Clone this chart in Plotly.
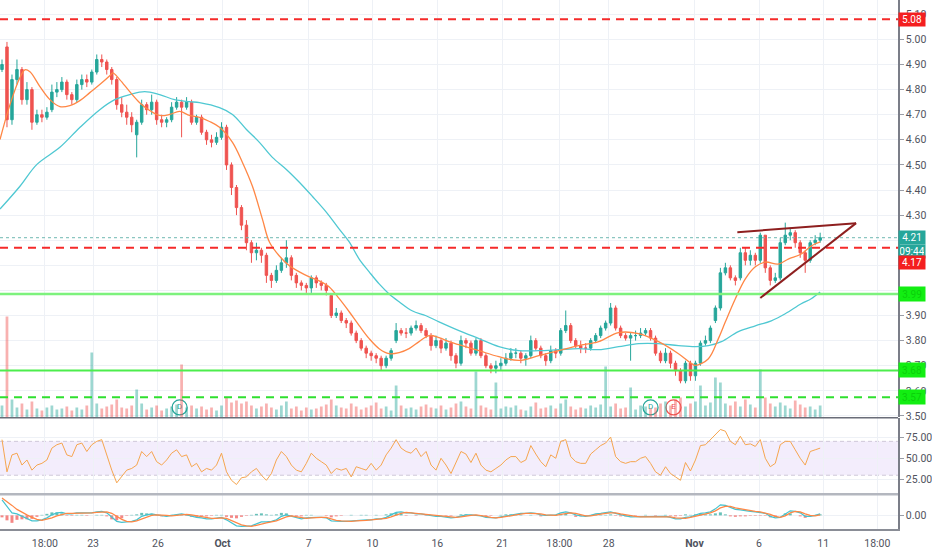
import plotly.graph_objects as go

# ---------------- DATA ----------------
opens = [4.88,4.97,4.68,4.84,4.88,4.76,4.80,4.67,4.70,4.69,
         4.72,4.79,4.80,4.83,4.78,4.76,4.82,4.84,4.83,4.87,
         4.92,4.91,4.88,4.84,4.74,4.71,4.69,4.62,4.67,4.74,
         4.72,4.75,4.68,4.67,4.68,4.73,4.75,4.73,4.75,4.67,
         4.69,4.63,4.60,4.59,4.61,4.65,4.50,4.41,4.33,4.26,
         4.19,4.15,4.16,4.14,4.06,4.04,4.08,4.11,4.13,4.06,
         4.03,4.02,4.01,4.05,4.03,4.02,3.98,3.90,3.91,3.88,
         3.87,3.83,3.80,3.77,3.75,3.74,3.73,3.70,3.73,3.80,
         3.84,3.83,3.83,3.85,3.86,3.84,3.82,3.78,3.80,3.77,
         3.79,3.74,3.71,3.80,3.79,3.75,3.80,3.74,3.70,3.69,
         3.70,3.71,3.73,3.75,3.75,3.73,3.74,3.80,3.77,3.74,
         3.72,3.76,3.75,3.84,3.86,3.80,3.78,3.77,3.77,3.80,
         3.82,3.85,3.87,3.93,3.85,3.82,3.81,3.82,3.82,3.83,
         3.84,3.81,3.75,3.72,3.75,3.71,3.68,3.64,3.71,3.66,
         3.71,3.79,3.80,3.88,3.93,4.07,4.09,4.05,4.05,4.15,
         4.12,4.14,4.12,4.22,4.09,4.04,4.05,4.19,4.22,4.23,
         4.19,4.15,4.12,4.19,4.20]
highs = [4.92,4.99,4.86,4.92,4.89,4.83,4.81,4.72,4.72,4.73,
         4.82,4.83,4.85,4.84,4.79,4.84,4.86,4.86,4.88,4.94,
         4.94,4.92,4.89,4.85,4.77,4.74,4.71,4.68,4.76,4.75,
         4.78,4.76,4.70,4.69,4.75,4.77,4.76,4.77,4.76,4.70,
         4.70,4.64,4.62,4.63,4.67,4.66,4.51,4.42,4.34,4.28,
         4.20,4.19,4.17,4.15,4.07,4.10,4.13,4.20,4.14,4.07,
         4.04,4.03,4.06,4.06,4.04,4.03,3.98,3.93,3.92,3.89,
         3.88,3.84,3.81,3.78,3.76,3.75,3.74,3.74,3.77,3.87,
         3.85,3.85,3.86,3.88,3.87,3.85,3.83,3.82,3.81,3.81,
         3.80,3.75,3.82,3.81,3.80,3.81,3.81,3.75,3.71,3.72,
         3.73,3.75,3.77,3.77,3.76,3.75,3.82,3.81,3.78,3.75,
         3.78,3.77,3.85,3.92,3.87,3.81,3.80,3.79,3.81,3.83,
         3.86,3.88,3.95,3.94,3.86,3.83,3.83,3.84,3.85,3.85,
         3.85,3.82,3.76,3.77,3.76,3.72,3.69,3.72,3.72,3.72,
         3.80,3.82,3.86,3.94,4.09,4.11,4.10,4.06,4.17,4.17,
         4.16,4.15,4.23,4.22,4.10,4.07,4.21,4.27,4.25,4.24,
         4.20,4.16,4.20,4.22,4.23]
lows = [4.87,4.65,4.66,4.82,4.74,4.74,4.64,4.66,4.67,4.68,
        4.71,4.77,4.79,4.76,4.74,4.75,4.80,4.81,4.82,4.86,
        4.89,4.86,4.82,4.72,4.69,4.66,4.63,4.53,4.66,4.70,
        4.70,4.66,4.65,4.65,4.67,4.72,4.61,4.72,4.66,4.66,
        4.62,4.58,4.57,4.58,4.60,4.48,4.38,4.30,4.24,4.16,
        4.11,4.12,4.11,4.03,4.01,4.03,4.07,4.09,4.04,4.01,
        4.00,3.99,3.99,4.01,4.00,3.98,3.89,3.89,3.87,3.85,
        3.82,3.79,3.76,3.73,3.72,3.71,3.68,3.69,3.72,3.79,
        3.82,3.81,3.82,3.84,3.83,3.81,3.76,3.77,3.75,3.76,
        3.72,3.69,3.70,3.77,3.74,3.74,3.73,3.69,3.67,3.67,
        3.68,3.70,3.72,3.73,3.71,3.70,3.73,3.76,3.73,3.70,
        3.71,3.73,3.74,3.83,3.79,3.77,3.75,3.75,3.76,3.79,
        3.81,3.84,3.86,3.84,3.81,3.80,3.72,3.80,3.81,3.82,
        3.80,3.74,3.71,3.71,3.69,3.66,3.63,3.63,3.64,3.64,
        3.70,3.78,3.79,3.87,3.92,4.06,4.04,4.02,4.04,4.10,
        4.10,4.10,4.11,4.07,4.02,4.03,4.04,4.18,4.20,4.17,
        4.13,4.07,4.11,4.18,4.19]
closes = [4.90,4.68,4.84,4.88,4.76,4.80,4.67,4.70,4.69,4.71,
          4.79,4.80,4.83,4.78,4.76,4.82,4.84,4.83,4.87,4.92,
          4.91,4.88,4.84,4.74,4.71,4.69,4.66,4.67,4.74,4.72,
          4.75,4.68,4.67,4.68,4.73,4.75,4.73,4.75,4.67,4.69,
          4.63,4.60,4.59,4.61,4.65,4.50,4.41,4.33,4.26,4.19,
          4.15,4.16,4.14,4.06,4.04,4.08,4.11,4.13,4.06,4.03,
          4.02,4.01,4.05,4.03,4.02,4.00,3.90,3.91,3.88,3.87,
          3.83,3.80,3.77,3.75,3.74,3.73,3.70,3.73,3.76,3.84,
          3.83,3.83,3.85,3.86,3.84,3.82,3.78,3.80,3.77,3.79,
          3.74,3.71,3.80,3.79,3.75,3.80,3.74,3.70,3.69,3.70,
          3.71,3.73,3.75,3.75,3.73,3.74,3.80,3.77,3.74,3.72,
          3.76,3.75,3.84,3.86,3.80,3.78,3.77,3.77,3.80,3.82,
          3.85,3.87,3.93,3.85,3.82,3.81,3.82,3.82,3.83,3.84,
          3.81,3.75,3.72,3.75,3.71,3.68,3.64,3.71,3.66,3.71,
          3.79,3.80,3.85,3.93,4.07,4.09,4.05,4.04,4.15,4.12,
          4.14,4.12,4.22,4.09,4.04,4.05,4.19,4.22,4.23,4.19,
          4.15,4.12,4.19,4.20,4.21]
volume = [12,101,18,10,14,8,16,9,7,10,
          12,8,9,11,7,10,8,12,65,14,
          9,11,13,18,10,9,12,28,14,8,
          10,12,7,9,11,13,53,10,12,9,
          11,8,10,7,12,20,15,17,14,16,
          12,9,11,14,10,8,12,16,9,11,
          7,10,8,9,11,13,18,12,10,9,
          14,11,8,10,12,15,9,11,7,32,
          12,9,10,8,11,13,10,9,12,8,
          10,14,16,11,9,46,12,10,8,35,
          9,11,10,12,8,7,11,15,9,10,
          12,9,14,18,11,8,10,9,12,10,
          13,51,11,14,9,10,30,8,12,11,
          9,10,14,16,12,18,20,11,14,16,
          32,12,15,40,35,14,12,16,11,18,
          13,10,48,20,14,11,15,12,9,17,
          13,10,11,8,12]

# fast (orange) and slow (teal) moving averages, sampled along the bar index
ma_fast_x = [-0.4,1.6,3.6,4.6,5.6,7.6,9.6,11.6,13.6,15.6,17.6,19.6,21.6,22.2,23.6,25.6,27.6,29.6,31.6,33.6,
             35.6,37.6,39.6,41.6,43.6,46.2,48.2,50.2,52.2,53.6,55.6,57.6,59.6,61.6,63.6,65.6,67.6,69.6,71.6,73.6,
             75.6,77.6,79.6,81.6,83.6,85.6,87.6,89.6,91.6,95.6,99.6,103.6,107.6,111.6,115.6,119.6,123.6,127.6,131.6,135.6,
             138.2,139,141.6,143.6,145,147,149,151,153,155.6,157.6,160.2,162.2,164]
ma_fast_y = [4.601,4.740,4.848,4.879,4.871,4.812,4.760,4.732,4.736,4.756,4.788,4.820,4.855,4.867,4.840,4.792,4.748,4.717,4.697,4.701,
             4.713,4.697,4.689,4.673,4.650,4.590,4.510,4.415,4.284,4.193,4.137,4.098,4.074,4.054,4.038,4.014,3.967,3.915,3.860,3.808,
             3.768,3.748,3.752,3.768,3.796,3.820,3.812,3.796,3.784,3.760,3.736,3.721,3.740,3.760,3.780,3.796,3.832,3.828,3.796,3.748,
             3.709,3.701,3.728,3.808,3.875,3.967,4.046,4.094,4.113,4.105,4.125,4.145,4.177,4.193]
ma_slow_x = [-0.4,3.6,7,11.6,15.6,19.6,22.6,25.6,28.6,31.6,34.6,37.6,39.6,43.6,46.2,49,51.6,54.2,57,59.6,
             62.2,65,67.6,69.6,71.6,73.6,75.6,77.6,79.6,82.2,85,87.6,91.6,95.6,99.6,103.6,107.6,111.6,115.6,119.6,
             123.6,127.6,131.6,135.6,139,141.6,144.2,147.6,151,154.2,157,160.2,162.2,164]
ma_slow_y = [4.324,4.415,4.502,4.570,4.649,4.720,4.760,4.780,4.792,4.780,4.760,4.752,4.748,4.728,4.701,4.641,4.590,4.530,4.482,4.431,
             4.375,4.312,4.244,4.193,4.125,4.074,4.026,3.986,3.955,3.919,3.899,3.875,3.840,3.808,3.776,3.760,3.760,3.764,3.768,3.764,
             3.776,3.788,3.788,3.780,3.776,3.780,3.796,3.836,3.859,3.879,3.907,3.947,3.967,3.994]

rsi = [72,34,54,56,42,48,36,42,44,48,
       62,66,68,54,52,66,68,58,66,70,
       72,54,36,21,28,36,38,42,58,52,
       58,46,42,48,56,60,52,54,40,44,
       34,38,36,42,56,34,24,19,27,28,
       34,38,30,24,32,48,58,52,42,36,
       34,44,56,50,46,42,32,38,36,38,
       28,40,38,36,44,36,42,54,62,72,
       62,58,56,62,52,58,42,36,50,42,
       32,46,58,55,45,56,42,36,34,38,
       42,48,52,52,45,48,65,55,46,40,
       54,50,70,72,52,46,44,44,55,60,
       65,68,75,52,46,44,46,46,50,52,
       44,34,30,40,32,28,24,45,35,48,
       65,66,72,78,84,82,70,66,76,66,
       67,64,72,50,40,44,66,70,70,60,
       50,42,58,60,62]

macd = [0.031,0.018,0.005,0.003,-0.002,-0.007,-0.011,-0.011,-0.009,-0.005,
        0.001,0.005,0.006,0.003,0.003,0.005,0.005,0.004,0.005,0.007,
        0.008,0.005,-0.004,-0.012,-0.014,-0.013,-0.012,-0.009,-0.002,0.001,
        0.003,0.001,-0.001,-0.002,0.000,0.001,0.003,0.001,-0.002,-0.004,
        -0.005,-0.007,-0.007,-0.005,-0.004,-0.009,-0.015,-0.021,-0.022,-0.022,
        -0.021,-0.017,-0.013,-0.013,-0.012,-0.009,-0.002,0.001,-0.002,-0.005,
        -0.007,-0.005,-0.004,-0.004,-0.004,-0.005,-0.011,-0.012,-0.012,-0.012,
        -0.011,-0.011,-0.010,-0.009,-0.009,-0.007,-0.007,-0.004,0.001,0.006,
        0.007,0.005,0.005,0.003,0.003,0.001,0.000,-0.002,-0.002,-0.003,
        -0.005,-0.004,-0.001,0.001,0.001,0.000,-0.001,-0.004,-0.005,-0.005,
        -0.003,-0.001,0.001,0.003,0.004,0.004,0.005,0.004,0.001,0.000,
        0.000,0.001,0.005,0.007,0.005,0.001,-0.001,-0.002,0.000,0.003,
        0.004,0.005,0.007,0.004,0.001,-0.001,-0.003,-0.003,-0.003,-0.002,
        -0.002,-0.003,-0.003,-0.002,-0.004,-0.007,-0.007,-0.004,-0.003,0.000,
        0.004,0.005,0.007,0.013,0.021,0.020,0.016,0.012,0.011,0.009,
        0.008,0.007,0.006,0.004,-0.002,-0.005,-0.004,0.003,0.009,0.008,
        0.005,-0.002,-0.002,0.000,0.003]
signal = [0.035,0.028,0.020,0.012,0.006,0.001,-0.004,-0.008,-0.010,-0.008,
          -0.005,-0.001,0.002,0.004,0.004,0.004,0.004,0.005,0.005,0.006,
          0.007,0.007,0.004,-0.002,-0.008,-0.012,-0.013,-0.011,-0.007,-0.003,
          0.000,0.001,0.001,0.000,-0.001,0.000,0.001,0.002,0.001,-0.001,
          -0.003,-0.005,-0.006,-0.006,-0.005,-0.006,-0.010,-0.015,-0.019,-0.021,
          -0.022,-0.020,-0.017,-0.015,-0.013,-0.011,-0.007,-0.003,-0.001,-0.003,
          -0.005,-0.006,-0.005,-0.004,-0.004,-0.004,-0.007,-0.010,-0.011,-0.012,
          -0.012,-0.011,-0.011,-0.010,-0.009,-0.008,-0.007,-0.006,-0.003,0.001,
          0.004,0.006,0.005,0.004,0.003,0.002,0.001,-0.001,-0.002,-0.002,
          -0.004,-0.004,-0.003,-0.001,0.000,0.001,0.000,-0.002,-0.004,-0.005,
          -0.004,-0.003,-0.001,0.001,0.003,0.004,0.004,0.004,0.003,0.001,
          0.000,0.000,0.002,0.004,0.005,0.004,0.001,-0.001,-0.001,0.001,
          0.003,0.004,0.005,0.005,0.003,0.001,-0.001,-0.002,-0.003,-0.003,
          -0.002,-0.002,-0.003,-0.003,-0.003,-0.005,-0.006,-0.006,-0.004,-0.002,
          0.001,0.003,0.005,0.009,0.015,0.018,0.018,0.015,0.013,0.011,
          0.009,0.008,0.007,0.005,0.002,-0.002,-0.004,-0.001,0.005,0.008,
          0.007,0.003,0.000,-0.001,0.001]

tick_pos = [8.6,18.26,31.26,44.2,61.46,74.26,87.26,100.26,111.74,121.6,138.8,151.74,164.6,175.46]
tick_text = ["18:00","23","26","<b>Oct</b>","7","10","16","21","18:00","28","<b>Nov</b>","6","11","18:00"]
price_ticks = [3.5,3.6,3.7,3.8,3.9,4.0,4.1,4.2,4.3,4.4,4.5,4.6,4.7,4.8,4.9,5.0,5.1]
hidden_price_ticks = [4.0, 4.1, 4.2]   # covered by the price-label boxes in the reference

red_levels = [5.08, 4.17]
green_solid_levels = [3.986, 3.681]
green_dashed_levels = [3.574]
green_labels = ["3.99", "3.68", "3.57"]
last_price = 4.21
countdown = "09:44"
trendlines = [((147.4, 4.232), (171.2, 4.268)), ((152.0, 3.970), (171.2, 4.268))]
events_x = [35.6, 130.0, 134.6]
events_txt = ["D", "D", "E"]

assert len(opens) == len(highs) == len(lows) == len(closes) == len(volume) == len(rsi) == len(macd) == len(signal) == 165

# ---------------- STYLE ----------------
UP = "#26a69a"
DN = "#ef5350"
GRID = "#eef1f6"
FONT = "Roboto, Arial, sans-serif"
idx = list(range(len(closes)))
XR = [-0.4, 179.6]

fig = go.Figure()

vol_col = ["rgba(38,166,154,0.45)" if c >= o else "rgba(239,83,80,0.45)" for o, c in zip(opens, closes)]
fig.add_trace(go.Bar(x=idx, y=volume, marker=dict(color=vol_col, line=dict(width=0)), width=0.55,
                     xaxis="x", yaxis="y4", hoverinfo="skip"))

fig.add_trace(go.Candlestick(x=idx, open=opens, high=highs, low=lows, close=closes,
                             increasing=dict(line=dict(color=UP, width=1), fillcolor=UP),
                             decreasing=dict(line=dict(color=DN, width=1), fillcolor=DN),
                             whiskerwidth=0, xaxis="x", yaxis="y"))

fig.add_trace(go.Scatter(x=ma_slow_x, y=ma_slow_y, mode="lines", line=dict(color="#4fc8d2", width=1.3, shape="spline"),
                         xaxis="x", yaxis="y", hoverinfo="skip"))
fig.add_trace(go.Scatter(x=ma_fast_x, y=ma_fast_y, mode="lines", line=dict(color="#ff8745", width=1.3, shape="spline"),
                         xaxis="x", yaxis="y", hoverinfo="skip"))

ev_col = [UP if t == "D" else DN for t in events_txt]
fig.add_trace(go.Scatter(x=events_x, y=[3.534] * len(events_x), mode="markers+text", text=events_txt,
                         textposition="middle center", textfont=dict(color=ev_col, size=8, family=FONT),
                         marker=dict(size=15, color="white", line=dict(color=ev_col, width=1.3)),
                         xaxis="x", yaxis="y", hoverinfo="skip"))

# RSI
fig.add_trace(go.Scatter(x=idx, y=rsi, mode="lines", line=dict(color="#f5a54f", width=1),
                         xaxis="x2", yaxis="y2", hoverinfo="skip"))

# MACD
hist = [m - s for m, s in zip(macd, signal)]
hist_col = ["rgba(38,166,154,0.7)" if h >= 0 else "rgba(239,83,80,0.7)" for h in hist]
fig.add_trace(go.Bar(x=idx, y=hist, marker=dict(color=hist_col, line=dict(width=0)), width=0.6,
                     xaxis="x3", yaxis="y3", hoverinfo="skip"))
fig.add_trace(go.Scatter(x=idx, y=macd, mode="lines", line=dict(color="#45c3cf", width=1.2),
                         xaxis="x3", yaxis="y3", hoverinfo="skip"))
fig.add_trace(go.Scatter(x=idx, y=signal, mode="lines", line=dict(color="#ff8745", width=1.2),
                         xaxis="x3", yaxis="y3", hoverinfo="skip"))

shapes = []
for lv in red_levels:
    shapes.append(dict(type="line", xref="paper", x0=0, x1=1, yref="y", y0=lv, y1=lv,
                       line=dict(color="#f52a2a", width=2, dash="8px,6px")))
for k, lv in enumerate(green_solid_levels):
    shapes.append(dict(type="line", xref="paper", x0=0, x1=1, yref="y", y0=lv, y1=lv,
                       line=dict(color="#7df27d" if k == 0 else "#4ded4d", width=2.5 if k == 0 else 1.8)))
for lv in green_dashed_levels:
    shapes.append(dict(type="line", xref="paper", x0=0, x1=1, yref="y", y0=lv, y1=lv,
                       line=dict(color="#2fe02f", width=2, dash="8px,6px")))
shapes.append(dict(type="line", xref="paper", x0=0, x1=1, yref="y", y0=last_price, y1=last_price,
                   line=dict(color="#6fb8b2", width=1, dash="dot")))
for (p0, p1) in trendlines:
    shapes.append(dict(type="line", xref="x", yref="y", x0=p0[0], y0=p0[1], x1=p1[0], y1=p1[1],
                       line=dict(color="#8e1f1f", width=2)))
# RSI band
shapes.append(dict(type="rect", xref="paper", x0=0, x1=1, yref="y2", y0=30, y1=70,
                   fillcolor="rgba(150,90,230,0.11)", line=dict(width=0), layer="below"))
for lv in (30, 70):
    shapes.append(dict(type="line", xref="paper", x0=0, x1=1, yref="y2", y0=lv, y1=lv,
                       line=dict(color="#cfc8d8", width=1, dash="4px,3px"), layer="below"))
# panel separators
shapes.append(dict(type="line", xref="paper", x0=0, x1=1, yref="paper", y0=0.2102, y1=0.2102,
                   line=dict(color="#6a6d78", width=1.5)))
shapes.append(dict(type="line", xref="paper", x0=0, x1=1, yref="paper", y0=0.0659, y1=0.0659,
                   line=dict(color="#b4b7bf", width=2.5)))

ann = []
def box(y, text, bg, fg="white", yshift=0):
    ann.append(dict(x=1, xref="paper", xanchor="left", xshift=0, y=y, yref="y", yshift=yshift,
                    text=text, showarrow=False, bgcolor=bg, font=dict(color=fg, size=10, family=FONT),
                    borderpad=1, width=24, height=11, align="center"))

box(red_levels[0], "%.2f" % red_levels[0], "#f41f1f")
for lv, tx in zip(green_solid_levels + green_dashed_levels, green_labels):
    ann.append(dict(x=1, xref="paper", xanchor="left", y=lv, yref="y", text=tx, showarrow=False,
                    bgcolor="#12ee12", font=dict(color="#0ad00a", size=10, family=FONT),
                    borderpad=1, width=24, height=12, align="center"))
box(last_price, "%.2f" % last_price, "#26a69a")
box(last_price, countdown, "#26a69a", yshift=-14)
box(red_levels[1], "%.2f" % red_levels[1], "#f41f1f", yshift=-15)

axis_font = dict(family=FONT, size=10.5, color="#50535e")
common_x = dict(range=XR, tickvals=tick_pos, showgrid=True, gridcolor=GRID, zeroline=False, domain=[0, 1])
price_text = ["" if any(abs(v - h) < 1e-9 for h in hidden_price_ticks) else "%.2f" % v for v in price_ticks]

fig.update_layout(
    width=932, height=550, margin=dict(l=0, r=32, t=0, b=19),
    paper_bgcolor="white", plot_bgcolor="white", showlegend=False,
    font=axis_font, barmode="overlay",
    xaxis=dict(anchor="y", showticklabels=False, rangeslider=dict(visible=False), **common_x),
    xaxis2=dict(anchor="y2", matches="x", showticklabels=False, **common_x),
    xaxis3=dict(anchor="y3", matches="x", showticklabels=True, ticktext=tick_text, tickfont=axis_font,
                ticks="outside", ticklen=3, tickcolor="rgba(0,0,0,0)",
                showline=True, linecolor="#8a8d96", linewidth=2, **common_x),
    yaxis=dict(domain=[0.2109, 1], range=[3.494, 5.157], side="right", anchor="x",
               tickvals=price_ticks, ticktext=price_text, tickfont=axis_font,
               ticks="outside", ticklen=4, tickcolor="#9a9da6",
               showline=True, linecolor="#7b7e88", linewidth=1.5, gridcolor=GRID, zeroline=False),
    yaxis4=dict(overlaying="y", range=[0, 418], visible=False, anchor="x"),
    yaxis2=dict(domain=[0.0659, 0.2090], range=[7.65, 97.06], side="right", anchor="x2",
                tickvals=[25, 50, 75], ticktext=["25.00", "50.00", "75.00"], tickfont=axis_font,
                ticks="outside", ticklen=4, tickcolor="#9a9da6",
                showline=True, linecolor="#7b7e88", linewidth=1.5, gridcolor=GRID, zeroline=False),
    yaxis3=dict(domain=[0, 0.0659], range=[-0.0274, 0.0426], side="right", anchor="x3",
                tickvals=[0], ticktext=["0.00"], tickfont=axis_font,
                ticks="outside", ticklen=4, tickcolor="#9a9da6",
                showline=True, linecolor="#7b7e88", linewidth=1.5, gridcolor=GRID, zeroline=False),
    shapes=shapes, annotations=ann,
)

fig.write_html("out.html", config={"displayModeBar": False},
               post_script="document.body.style.margin='0';document.body.style.overflow='hidden';")
